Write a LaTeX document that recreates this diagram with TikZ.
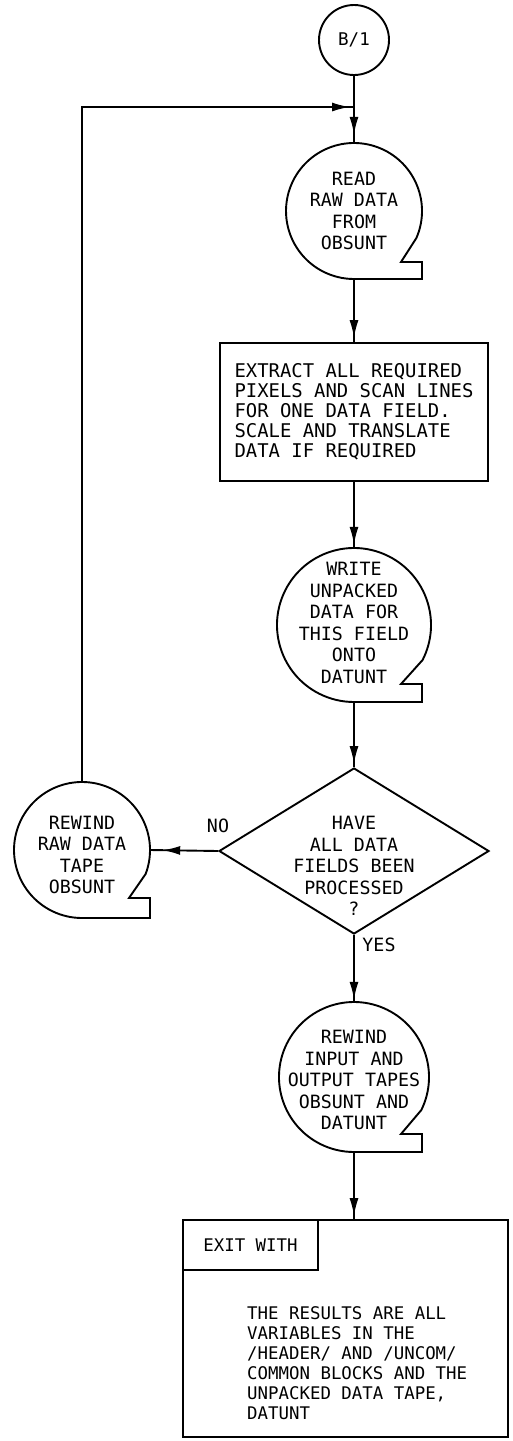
\documentclass[tikz,border=0pt]{standalone}
\usepackage{fontspec}
\newfontfamily\printfont{DejaVu Sans Mono}
\usetikzlibrary{calc,shapes.geometric,arrows.meta,decorations.markings}

\tikzset{
  outline/.style={line width=1.9pt, line join=miter},
  tapecirc/.style={circle, draw=none, inner sep=0pt},
  ttext/.style={font=\printfont\fontsize{18.3}{21.5}\selectfont, align=center, inner sep=0pt},
  boxtext/.style={font=\printfont\fontsize{18.9}{20}\selectfont, align=left},
  flowto/.style={outline, postaction={decorate},
    decoration={markings, mark=at position -#1 with {\arrow{Latex[length=18pt,width=9pt]}}}},
}

% magnetic-tape symbol: circle with a notched tail at the lower right
\newcommand{\tapeline}[3]{%
  \pgfmathsetmacro{\tang}{asin((#3+24-#2)/#2)}%
  \draw[outline] ($(#1.center)+(\tang:#2pt)$) arc[start angle=\tang, end angle=270, radius=#2pt]
    -- ++(68pt,0) -- ++(0,#3pt) -- ++(-21pt,0) -- cycle;
}

\begin{document}
\begin{tikzpicture}[x=1pt,y=1pt]
\useasboundingbox (0,0) rectangle (512,-1441);

% entry connector
\node[circle, draw, outline, minimum size=70pt, inner sep=0pt,
      font=\printfont\fontsize{17.5}{20}\selectfont] (b1) at (354,-40) {B/1};

% read raw data
\node[tapecirc, minimum size=136pt] (read) at (354,-211) {};
\tapeline{read}{68}{17}
\node[ttext] (readtxt) at (read.center) {READ\\RAW DATA\\FROM\\OBSUNT};

% extraction step
\node[draw, outline, minimum width=268pt, minimum height=138pt, boxtext] (extract) at (354,-412)
  {EXTRACT ALL REQUIRED\\PIXELS AND SCAN LINES\\FOR ONE DATA FIELD.\\SCALE AND TRANSLATE\\DATA IF REQUIRED};

% write unpacked data
\node[tapecirc, minimum size=154pt] (write) at (354,-625) {};
\tapeline{write}{77}{18}
\node[ttext] (writetxt) at ($(write.center)+(0,2)$) {WRITE\\UNPACKED\\DATA FOR\\THIS FIELD\\ONTO\\DATUNT};

% decision
\node[diamond, draw, outline, minimum width=270pt, minimum height=166pt, inner sep=0pt] (dia) at (354,-851) {};
\node[ttext] (diatxt) at ($(dia.center)+(0,-15)$) {HAVE\\ALL DATA\\FIELDS BEEN\\PROCESSED\\?};

% rewind raw data tape
\node[tapecirc, minimum size=136pt] (rewind) at (82,-850) {};
\tapeline{rewind}{68}{20}
\node[ttext] (rewindtxt) at ($(rewind.center)+(0,-5)$) {REWIND\\RAW DATA\\TAPE\\OBSUNT};

% rewind input and output tapes
\node[tapecirc, minimum size=150pt] (io) at (354,-1077) {};
\tapeline{io}{75}{18}
\node[ttext] (iotxt) at ($(io.center)+(0,-3)$) {REWIND\\INPUT AND\\OUTPUT TAPES\\OBSUNT AND\\DATUNT};

% exit block
\node[draw, outline, minimum width=325pt, minimum height=217pt, inner sep=0pt] (exit) at (345.5,-1328.5) {};
\node[draw, outline, anchor=north west, minimum width=135pt, minimum height=50pt, inner sep=0pt,
      font=\printfont\fontsize{17.4}{20}\selectfont] (exitlabel) at (exit.north west) {EXIT WITH};
\node[anchor=west, inner sep=0pt, align=left, font=\printfont\fontsize{17.4}{20}\selectfont] (results) at (247,-1363)
  {THE RESULTS ARE ALL\\VARIABLES IN THE\\/HEADER/ AND /UNCOM/\\COMMON BLOCKS AND THE\\UNPACKED DATA TAPE,\\DATUNT};

% labels
\node[ttext] (nolbl) at (218,-826) {NO};
\node[ttext] (yeslbl) at (379,-945) {YES};

% connectors
\coordinate (join) at (354,-107);
\draw[flowto=8pt] (b1.south) -- (read.north);
\draw[flowto=4pt] (read.south) -- (extract.north);
\draw[flowto=3pt] (extract.south) -- (write.north);
\draw[flowto=3pt] (write.south) -- (dia.north);
\draw[flowto=12pt] (dia.west) -- (rewind.east);
\draw[flowto=4pt] (rewind.north) |- (join);
\draw[flowto=2pt] (dia.south) -- (io.north);
\draw[flowto=3pt] (io.south) -- (io.south |- exit.north);
\end{tikzpicture}
\end{document}
